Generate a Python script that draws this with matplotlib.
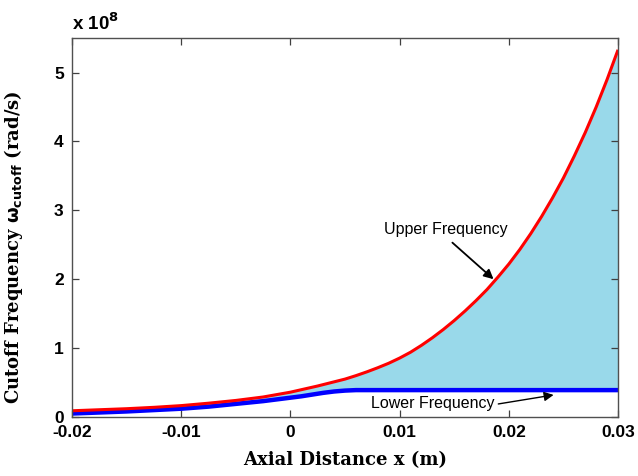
import numpy as np
import matplotlib
matplotlib.use('Agg')
import matplotlib.pyplot as plt

# axial positions (m) and cutoff frequencies (units of 1e8 rad/s)
x_upper = [-0.02, -0.0175, -0.015, -0.0125, -0.01, -0.0075, -0.005, -0.0025,
           0.0, 0.0025, 0.005, 0.006, 0.007, 0.008, 0.009, 0.010, 0.011,
           0.012, 0.013, 0.014, 0.015, 0.016, 0.017, 0.018, 0.019, 0.020,
           0.021, 0.022, 0.023, 0.024, 0.025, 0.026, 0.027, 0.028, 0.029, 0.030]
upper = [0.09, 0.105, 0.12, 0.14, 0.165, 0.20, 0.24, 0.29,
         0.36, 0.45, 0.55, 0.60, 0.655, 0.715, 0.78, 0.855, 0.94,
         1.04, 1.15, 1.27, 1.40, 1.54, 1.69, 1.85, 2.03, 2.22,
         2.43, 2.66, 2.91, 3.18, 3.47, 3.79, 4.13, 4.50, 4.90, 5.33]

x_lower = [-0.02, -0.0175, -0.015, -0.0125, -0.01, -0.0075, -0.005, -0.0025,
           0.0, 0.001, 0.002, 0.003, 0.004, 0.005, 0.006, 0.01, 0.015,
           0.02, 0.025, 0.03]
lower = [0.05, 0.065, 0.08, 0.10, 0.12, 0.15, 0.19, 0.23,
         0.28, 0.30, 0.325, 0.35, 0.37, 0.383, 0.39, 0.39, 0.39,
         0.39, 0.39, 0.39]

x_ticks = [-0.02, -0.01, 0, 0.01, 0.02, 0.03]
x_tick_labels = ['-0.02', '-0.01', '0', '0.01', '0.02', '0.03']
y_ticks = [0, 1, 2, 3, 4, 5]

fig = plt.figure(figsize=(6.38, 4.76), dpi=100)
ax = fig.add_axes([0.1129, 0.124, 0.8558, 0.796])

# shaded band between the two cutoff curves
lower_on_upper = np.interp(x_upper, x_lower, lower)
ax.fill_between(x_upper, lower_on_upper, upper, color='#99d9ea', lw=0)
ax.plot(x_lower, lower, color='#0000ff', lw=3.2, solid_capstyle='butt')
ax.plot(x_upper, upper, color='#ff0000', lw=2.2, solid_capstyle='butt')

ax.set_xlim(-0.02, 0.03)
ax.set_ylim(0, 5.5)
ax.set_xticks(x_ticks)
ax.set_xticklabels(x_tick_labels)
ax.set_yticks(y_ticks)
ax.tick_params(direction='in', top=True, right=True, length=5, width=0.9,
               color='#404040', pad=6)
for lab in ax.get_xticklabels() + ax.get_yticklabels():
    lab.set_fontfamily('Liberation Sans')
    lab.set_fontweight('bold')
    lab.set_fontsize(12.5)
for sp in ax.spines.values():
    sp.set_color('#505050')
    sp.set_linewidth(1.0)

fig.text(0.113, 0.936, r'x 10$^{\mathbf{8}}$', fontsize=13.5, fontweight='bold',
         family='Liberation Sans', ha='left', va='baseline')

ax.set_xlabel('Axial Distance x (m)', family='DejaVu Serif', fontweight='bold',
              fontsize=13)
ax.xaxis.set_label_coords(0.5, -0.09)
ax.set_ylabel(r'Cutoff Frequency $\mathbf{\omega}_{\mathbf{cutoff}}$ (rad/s)',
              family='DejaVu Serif', fontweight='bold', fontsize=13)
ax.yaxis.set_label_coords(-0.086, 0.449)

# curve annotations
ax.annotate('Upper Frequency', xy=(0.0186, 2.0), xytext=(0.01426, 2.72),
            family='Liberation Sans', fontsize=11.5, ha='center', va='center',
            arrowprops=dict(arrowstyle='-|>', color='black', lw=1.3,
                            mutation_scale=14, shrinkA=3, shrinkB=0,
                            relpos=(0.5, 0.0)))
ax.annotate('Lower Frequency', xy=(0.0241, 0.32), xytext=(0.0130, 0.19),
            family='Liberation Sans', fontsize=11.5, ha='center', va='center',
            arrowprops=dict(arrowstyle='-|>', color='black', lw=1.0,
                            mutation_scale=14, shrinkA=1, shrinkB=0,
                            relpos=(1.0, 0.45)))

fig.savefig('out.png', dpi=100)
